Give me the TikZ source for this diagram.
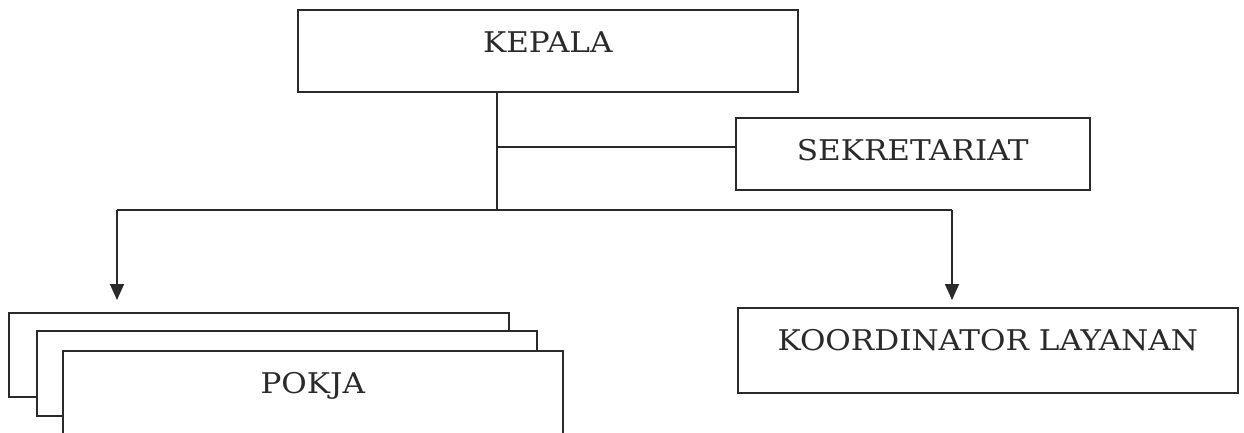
\documentclass[tikz,border=0pt]{standalone}
\usepackage{fontspec}
\setmainfont{DejaVu Serif}[FakeStretch=1.09]
\usepackage{xcolor}
\usepackage{tikz}
\usetikzlibrary{arrows.meta, positioning}

\definecolor{tinta}{HTML}{2A2A2A}

\begin{document}
\begin{tikzpicture}[
        x=1pt, y=-1pt,
        kotak/.style={draw=tinta, text=tinta, line width=1.6pt, fill=white, anchor=north west, inner sep=0pt, minimum width=500pt, text height=43pt, font=\fontsize{28.5}{32}\selectfont},
        garis/.style={draw=tinta, line width=1.6pt},
        panah/.style={garis, -{Triangle[width=14pt, length=16pt]}}
    ]
    \useasboundingbox (0,0) rectangle (1244,433);

    \node (kepala) [kotak, text depth=39pt] at (297,9) {KEPALA};
    \node (sekretariat) [kotak, text depth=29pt, minimum width=354pt] at (735,117) {SEKRETARIAT};
    \node (koordinator) [kotak, text depth=42pt] at (737,307) {KOORDINATOR LAYANAN};

    \node (pokja1) [kotak, text depth=41pt] at (8,312) {};
    \node (pokja2) [kotak, text depth=42pt] at (36,330) {};
    \node (pokja3) [kotak, text depth=43pt] at (62,350) {POKJA};

    \coordinate (cabang) at (497,210);
    \coordinate (sek) at (497,147);
    \coordinate (busKiri) at (117,210);
    \coordinate (busKanan) at (952,210);

    \draw[garis] (kepala.south -| cabang) -- (cabang);
    \draw[garis] (sek) -- (sek -| sekretariat.west);
    \draw[garis] (busKiri) -- (busKanan);
    \draw[panah, shorten >=12pt] (busKiri) -- (busKiri |- pokja1.north);
    \draw[panah, shorten >=7pt] (busKanan) -- (busKanan |- koordinator.north);
\end{tikzpicture}
\end{document}
